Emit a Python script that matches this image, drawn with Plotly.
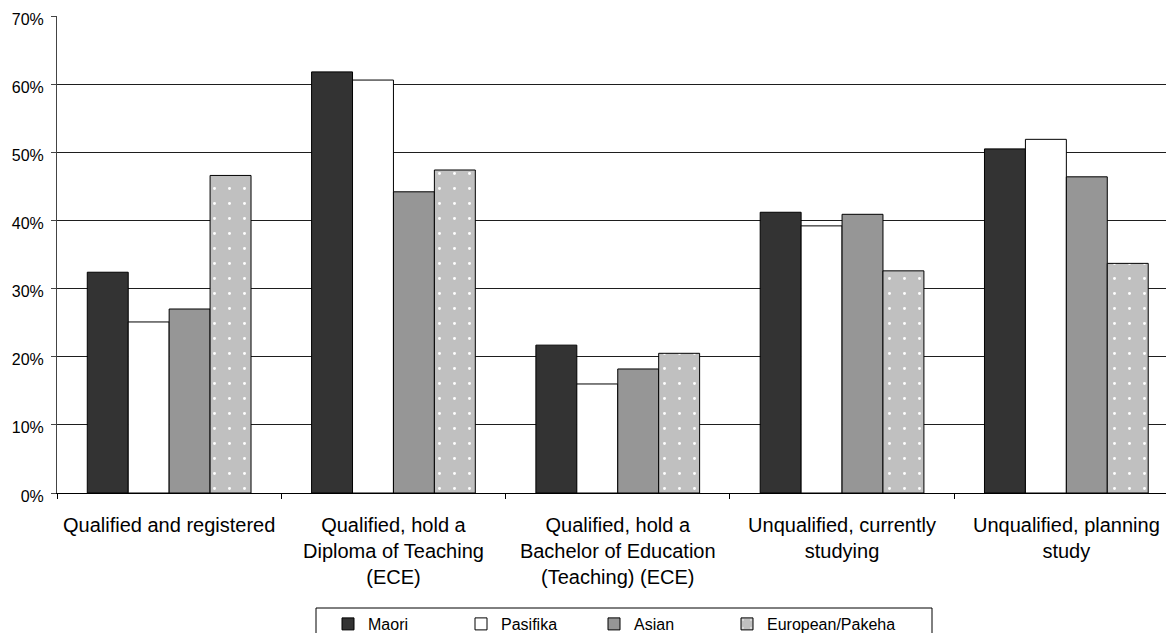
import plotly.graph_objects as go

# Category labels (line breaks as they wrap under the axis)
categories = [
    "Qualified and registered",
    "Qualified, hold a<br>Diploma of Teaching<br>(ECE)",
    "Qualified, hold a<br>Bachelor of Education<br>(Teaching) (ECE)",
    "Unqualified, currently<br>studying",
    "Unqualified, planning<br>study",
]

# Percentages by ethnic group
maori = [32.4, 61.8, 21.7, 41.2, 50.5]
pasifika = [25.1, 60.6, 16.0, 39.2, 51.9]
asian = [27.0, 44.2, 18.2, 40.9, 46.4]
european = [46.6, 47.4, 20.5, 32.6, 33.7]

y_ticks = [0, 10, 20, 30, 40, 50, 60, 70]

FONT = "Arial, Liberation Sans, sans-serif"
W, H = 1166, 633
ML, MT, MB = 57, 16, 140
plot_w = W - ML
plot_h = H - MT - MB
cat_px = 224.3  # pixel width of one category slot

outline = dict(color="#000000", width=1)

fig = go.Figure()
fig.add_trace(go.Bar(name="Maori", x=categories, y=maori,
                     marker=dict(color="#333333", line=outline)))
fig.add_trace(go.Bar(name="Pasifika", x=categories, y=pasifika,
                     marker=dict(color="#ffffff", line=outline)))
fig.add_trace(go.Bar(name="Asian", x=categories, y=asian,
                     marker=dict(color="#969696", line=outline)))
fig.add_trace(go.Bar(name="European/Pakeha", x=categories, y=european,
                     legendwidth=150,
                     marker=dict(color="#c0c0c0", line=outline,
                                 pattern=dict(shape=".", fillmode="replace",
                                              bgcolor="#c0c0c0", fgcolor="#ffffff",
                                              size=15, solidity=0.03))))

# legend frame (runs off the bottom edge)
def px_x(x):
    return (x - ML) / plot_w

def px_y(y):
    return (MT + plot_h - y) / plot_h

fig.add_shape(type="rect", xref="paper", yref="paper",
              x0=px_x(316), x1=px_x(932), y0=px_y(608), y1=px_y(660),
              line=dict(color="#000000", width=1), fillcolor="rgba(0,0,0,0)",
              layer="above")

fig.update_layout(
    width=W, height=H,
    margin=dict(l=ML, r=0, t=MT, b=MB, pad=0),
    paper_bgcolor="#ffffff", plot_bgcolor="#ffffff",
    font=dict(family=FONT, size=16, color="#000000"),
    barmode="group", bargap=0.27, bargroupgap=0,
    showlegend=True,
    legend=dict(orientation="h", xref="container", yref="container",
                x=328 / W, y=1 - 607 / H, xanchor="left", yanchor="top",
                entrywidth=88, entrywidthmode="pixels",
                font=dict(family=FONT, size=16, color="#000000"),
                bgcolor="rgba(0,0,0,0)", borderwidth=0,
                traceorder="normal"),
    xaxis=dict(
        type="category",
        range=[-0.5, -0.5 + plot_w / cat_px],
        showgrid=False, zeroline=False,
        showline=True, linecolor="#000000", linewidth=1,
        ticks="outside", tickson="boundaries", ticklen=5,
        tickcolor="#000000", tickwidth=1,
        tickfont=dict(family=FONT, size=20, color="#000000"),
        ticklabelstandoff=14,
    ),
    yaxis=dict(
        range=[0, 70],
        tickvals=y_ticks, ticktext=[f"{v}%" for v in y_ticks],
        showgrid=True, gridcolor="#1e1e1e", gridwidth=1,
        zeroline=False,
        showline=True, linecolor="#444444", linewidth=1,
        ticks="outside", ticklen=5, tickcolor="#444444", tickwidth=1,
        tickfont=dict(family=FONT, size=16, color="#000000"),
        ticklabelstandoff=4, ticklabelshift=3,
    ),
)

fig.write_html("out.html")
